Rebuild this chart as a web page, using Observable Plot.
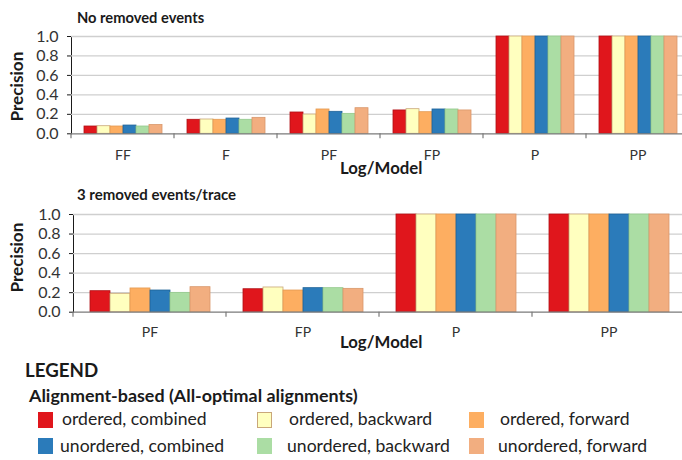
<!DOCTYPE html>
<html><head><meta charset="utf-8">
<script src="https://cdn.jsdelivr.net/npm/d3@7"></script>
<script src="https://cdn.jsdelivr.net/npm/@observablehq/plot@0.6"></script>
<style>
body{margin:0;background:#fff;}
#root{position:relative;width:682px;height:460px;overflow:hidden;font-family:Lato,"Open Sans",sans-serif;color:#1a1a1a;background:#fff;}
.abs{position:absolute;white-space:nowrap;line-height:1;}
.ptitle{font-weight:bold;}
.axlabel{font-weight:bold;}
.chart{position:absolute;left:0;overflow:visible;}
.chart text{fill:#333;}
.chart g[aria-label^="y-axis"] text{font-size:16px;}
.chart g[aria-label^="fx-axis"] text{font-size:14px;}
.sw{position:absolute;width:15px;height:16px;box-sizing:border-box;}
.lt{position:absolute;font-size:17.6px;line-height:1;white-space:nowrap;color:#222;}
</style></head>
<body><div id="root"></div>
<script>
// ---- data ----
const seriesNames = ["ordered, combined","ordered, backward","ordered, forward","unordered, combined","unordered, backward","unordered, forward"];
const seriesColors = ["#e0161c","#ffffbf","#fdae61","#2b7bba","#abdda4","#f2ae80"];
const seriesStrokes = ["#b01015","#c9a779","#e39a52","#1f6398","#93c98c","#d9976a"];

const topGroups = ["FF","F","PF","FP","P","PP"];
const topOrderedCombined    = [0.075,0.144,0.219,0.240,1,1];
const topOrderedBackward    = [0.078,0.147,0.198,0.253,1,1];
const topOrderedForward     = [0.075,0.144,0.250,0.222,1,1];
const topUnorderedCombined  = [0.085,0.157,0.226,0.250,1,1];
const topUnorderedBackward  = [0.075,0.144,0.205,0.250,1,1];
const topUnorderedForward   = [0.090,0.164,0.263,0.240,1,1];

const botGroups = ["PF","FP","P","PP"];
const botOrderedCombined    = [0.215,0.235,1,1];
const botOrderedBackward    = [0.188,0.253,1,1];
const botOrderedForward     = [0.243,0.222,1,1];
const botUnorderedCombined  = [0.222,0.246,1,1];
const botUnorderedBackward  = [0.198,0.246,1,1];
const botUnorderedForward   = [0.256,0.239,1,1];

const yTicks = [0,0.2,0.4,0.6,0.8,1.0];

const root = document.getElementById("root");

function panel(groups, series, cfg) {
  const rows = [];
  groups.forEach((g, gi) => seriesNames.forEach((s, si) => rows.push({group: g, series: s, value: series[si][gi]})));
  const strokeOf = new Map(seriesNames.map((s, i) => [s, seriesStrokes[i]]));
  const separators = (index, scales, values, dims) => {
    const g = d3.create("svg:g");
    const y0 = scales.y(0);
    const x = dims.marginLeft;
    g.append("line").attr("x1", x).attr("x2", x).attr("y1", y0).attr("y2", y0 + 5)
      .attr("stroke", "#7a7a7a").attr("stroke-width", 1.2);
    return g.node();
  };
  const plot = Plot.plot({
    width: 682, height: cfg.height,
    marginLeft: 71, marginRight: 0, marginTop: cfg.marginTop, marginBottom: cfg.marginBottom,
    style: {fontFamily: "Lato, 'Open Sans', sans-serif", background: "transparent"},
    fx: {domain: groups, range: cfg.fxRange, padding: 0, label: null, axis: "bottom", tickSize: 0, tickPadding: cfg.tickPadding},
    x: {domain: seriesNames, paddingInner: 0, paddingOuter: cfg.paddingOuter, axis: null},
    y: {domain: [0, 1], ticks: yTicks, tickFormat: d3.format(".1f"), tickSize: 4, tickPadding: 9, label: null, line: true},
    color: {domain: seriesNames, range: seriesColors},
    marks: [
      Plot.ruleY(yTicks.slice(1), {stroke: "#cfcfcf", strokeWidth: 1.3}),
      Plot.barY(rows, {fx: "group", x: "series", y: "value", fill: "series", stroke: d => strokeOf.get(d.series), strokeWidth: 0.8}),
      Plot.ruleY([0], {stroke: "#7a7a7a", strokeWidth: 1.2}),
      separators
    ]
  });
  plot.classList.add("chart");
  plot.style.top = cfg.top + "px";
  root.appendChild(plot);
}

panel(topGroups,
  [topOrderedCombined, topOrderedBackward, topOrderedForward, topUnorderedCombined, topUnorderedBackward, topUnorderedForward],
  {top: 0, height: 180, marginTop: 36, marginBottom: 46.7, fxRange: [71, 689], paddingOuter: 0.78, tickPadding: 16});
panel(botGroups,
  [botOrderedCombined, botOrderedBackward, botOrderedForward, botUnorderedCombined, botUnorderedBackward, botUnorderedForward],
  {top: 180, height: 176, marginTop: 34, marginBottom: 44.3, fxRange: [71, 686], paddingOuter: 0.76, tickPadding: 15});

function txt(cls, text, left, baseline, fs, extra) {
  const d = document.createElement("div");
  d.className = "abs " + cls;
  d.textContent = text;
  d.style.fontSize = fs + "px";
  d.style.left = left + "px";
  d.style.top = (baseline - 0.88 * fs) + "px";
  if (extra) Object.assign(d.style, extra);
  root.appendChild(d);
  return d;
}
txt("ptitle", "No removed events", 77, 23, 14.7);
txt("ptitle", "3 removed events/trace", 77, 200, 15);
const lm1 = txt("axlabel", "Log/Model", 0, 175, 16.8);
const lm2 = txt("axlabel", "Log/Model", 0, 349, 16.8);
[lm1, lm2].forEach(d => { d.style.left = (381 - d.offsetWidth / 2) + "px"; });
function vlabel(text, cx, cy) {
  const d = txt("axlabel", text, 0, 0, 17.2);
  d.style.top = "0px";
  const w = d.offsetWidth, h = d.offsetHeight;
  d.style.left = (cx - w / 2) + "px";
  d.style.top = (cy - h / 2) + "px";
  d.style.transform = "rotate(-90deg)";
}
vlabel("Precision", 17, 86);
vlabel("Precision", 17, 257);

txt("", "LEGEND", 25, 377, 18.7, {fontWeight: "bold"});
txt("", "Alignment-based (All-optimal alignments)", 29, 403, 17.9, {fontWeight: "bold"});

const colX = [38, 257, 469];
const textX = [[62, 60], [289, 287], [500, 498]];
const rowSwY = [412, 438];
const rowBase = [425, 452];
seriesNames.forEach((s, i) => {
  const row = i < 3 ? 0 : 1, col = i % 3;
  const sw = document.createElement("div");
  sw.className = "sw";
  sw.style.left = colX[col] + "px";
  sw.style.top = rowSwY[row] + "px";
  sw.style.background = seriesColors[i];
  if (i === 1) sw.style.border = "1px solid " + seriesStrokes[i];
  root.appendChild(sw);
  const t = document.createElement("div");
  t.className = "lt";
  t.textContent = s;
  t.style.left = textX[col][row] + "px";
  t.style.top = (rowBase[row] - 0.88 * 17.6) + "px";
  root.appendChild(t);
});
</script></body></html>
